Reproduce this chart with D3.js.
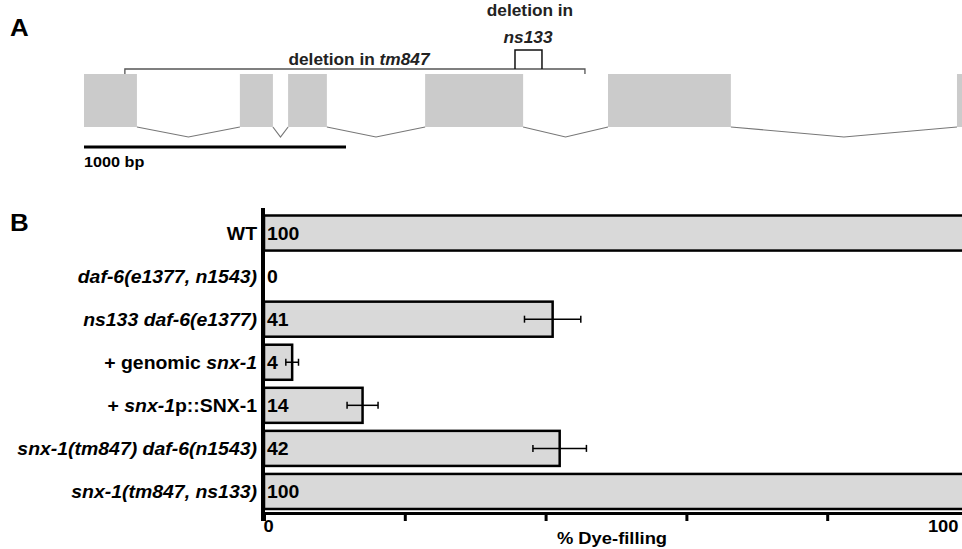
<!DOCTYPE html>
<html>
<head>
<meta charset="utf-8">
<script src="https://cdn.jsdelivr.net/npm/d3@7"></script>
<style>
  body { margin: 0; background: #fff; }
  svg { display: block; font-family: "Liberation Sans", Arial, sans-serif; font-weight: bold; }
</style>
</head>
<body>
<script>
// Panel A: gene model (bp)
var exons = [[0, 202], [595, 721], [779, 927], [1302, 1676], [2000, 2469], [3332, 3420]];
var tm847 = [156, 1912];
var ns133 = [1645, 1748];
var scaleBarBp = 1000;

// Panel B: dye-filling
var genotypes = [
    [["WT", false]],
    [["daf-6(e1377, n1543)", true]],
    [["ns133 daf-6(e1377)", true]],
    [["+ genomic ", false], ["snx-1", true]],
    [["+ ", false], ["snx-1", true], ["p::SNX-1", false]],
    [["snx-1(tm847) daf-6(n1543)", true]],
    [["snx-1(tm847, ns133)", true]]
];
var values = [100, 0, 41, 4, 14, 42, 100];
var errors = [null, null, 4, 0.9, 2.2, 3.8, null];
var xTicks = [0, 20, 40, 60, 80, 100];

var width = 962, height = 549;
var sx = 1.08; // text is a bit wide in the original

var svg = d3.select("body").append("svg")
    .attr("width", width)
    .attr("height", height);

function label(g, x, y, anchor, size) {
    return g.append("text")
        .attr("transform", "translate(" + x + "," + y + ") scale(" + sx + ",1)")
        .attr("text-anchor", anchor)
        .attr("font-size", size);
}

// panel letters
label(svg, 10, 36, "start", 24).text("A");
label(svg, 10, 231, "start", 24).text("B");

// ---- gene model
var gx = d3.scaleLinear().domain([0, scaleBarBp]).range([84, 346]);
var exTop = 74, exBot = 127;

var gene = svg.append("g");
gene.selectAll("rect.exon")
    .data(exons)
    .enter().append("rect")
    .attr("x", d => gx(d[0]))
    .attr("y", exTop)
    .attr("width", d => gx(d[1]) - gx(d[0]))
    .attr("height", exBot - exTop)
    .attr("fill", "#cbcbcb");

var introns = d3.pairs(exons).map(p => [p[0][1], p[1][0]]);
gene.selectAll("path.intron")
    .data(introns)
    .enter().append("path")
    .attr("d", d => "M" + gx(d[0]) + "," + exBot + "L" + gx((d[0] + d[1]) / 2) + "," + (exBot + 10) + "L" + gx(d[1]) + "," + exBot)
    .attr("fill", "none")
    .attr("stroke", "#777")
    .attr("stroke-width", 1.2);

// tm847 deletion bracket
gene.append("path")
    .attr("d", "M" + gx(tm847[0]) + "," + 74 + "V69H" + gx(tm847[1]) + "V74")
    .attr("fill", "none")
    .attr("stroke", "#555")
    .attr("stroke-width", 1.3);
label(gene, 359, 65, "middle", 16).attr("fill", "#222")
    .call(t => { t.append("tspan").text("deletion in "); t.append("tspan").attr("font-style", "italic").text("tm847"); });

// ns133 deletion bracket
gene.append("path")
    .attr("d", "M" + gx(ns133[0]) + ",69V50H" + gx(ns133[1]) + "V69")
    .attr("fill", "none")
    .attr("stroke", "#111")
    .attr("stroke-width", 1.5);
label(gene, 530, 16, "middle", 16).attr("fill", "#222").text("deletion in");
label(gene, 528, 43, "middle", 16).attr("fill", "#222").attr("font-style", "italic").text("ns133");

// scale bar
gene.append("line")
    .attr("x1", gx(0)).attr("x2", gx(scaleBarBp))
    .attr("y1", 147).attr("y2", 147)
    .attr("stroke", "#000")
    .attr("stroke-width", 3);
label(gene, 84, 167, "start", 15).text("1000 bp");

// ---- bar chart
var x = d3.scaleLinear().domain([0, 100]).range([264, 968]);
var y = d3.scaleBand()
    .domain(d3.range(values.length))
    .range([211.5, 513])
    .paddingInner(0.186)
    .paddingOuter(0.093);

var chart = svg.append("g");

chart.selectAll("rect.bar")
    .data(values)
    .enter().append("rect")
    .attr("x", x(0))
    .attr("y", (d, i) => y(i))
    .attr("width", d => x(d) - x(0))
    .attr("height", y.bandwidth())
    .attr("fill", "#d9d9d9")
    .attr("stroke", d => d > 0 ? "#000" : "none")
    .attr("stroke-width", 2.5);

// error bars
var eb = chart.selectAll("g.err")
    .data(values.map((v, i) => ({ v: v, e: errors[i], i: i })).filter(d => d.e))
    .enter().append("g")
    .attr("stroke", "#000")
    .attr("stroke-width", 1.5);
eb.append("line")
    .attr("x1", d => x(d.v - d.e)).attr("x2", d => x(d.v + d.e))
    .attr("y1", d => y(d.i) + y.bandwidth() / 2)
    .attr("y2", d => y(d.i) + y.bandwidth() / 2);
eb.selectAll("line.cap")
    .data(d => [d.v - d.e, d.v + d.e].map(p => ({ p: p, i: d.i })))
    .enter().append("line")
    .attr("x1", d => x(d.p)).attr("x2", d => x(d.p))
    .attr("y1", d => y(d.i) + y.bandwidth() / 2 - 3.5)
    .attr("y2", d => y(d.i) + y.bandwidth() / 2 + 3.5);

// value labels
values.forEach(function(v, i) {
    label(chart, x(0) + 3, y(i) + y.bandwidth() / 2 + 6.5, "start", 18).text(v);
});

// category labels
genotypes.forEach(function(parts, i) {
    var t = label(chart, 257, y(i) + y.bandwidth() / 2 + 6.5, "end", 18);
    parts.forEach(function(p) {
        t.append("tspan").attr("font-style", p[1] ? "italic" : "normal").text(p[0]);
    });
});

// x axis
var axisY = 513;
var xAxis = chart.append("g")
    .attr("transform", "translate(0," + axisY + ")")
    .call(d3.axisBottom(x).tickValues(xTicks).tickSize(8).tickSizeOuter(0)
        .tickFormat(d => (d === 0 || d === 100) ? d : ""));
xAxis.select(".domain").attr("stroke-width", 3);
xAxis.selectAll(".tick line").attr("stroke-width", 3);
xAxis.selectAll(".tick text")
    .attr("font-size", 17)
    .attr("font-family", "Liberation Sans, Arial, sans-serif")
    .attr("font-weight", "bold")
    .attr("dy", "0.5em")
    .attr("transform", "scale(" + sx + ",1)")
    .attr("x", d => d === 0 ? 4 / sx : -10 / sx)
    .attr("text-anchor", d => d === 0 ? "middle" : "end");

// y axis line
chart.append("line")
    .attr("x1", 263).attr("x2", 263)
    .attr("y1", 208).attr("y2", 521)
    .attr("stroke", "#000")
    .attr("stroke-width", 4);

label(chart, 612, 544, "middle", 17).text("% Dye-filling");
</script>
</body>
</html>
